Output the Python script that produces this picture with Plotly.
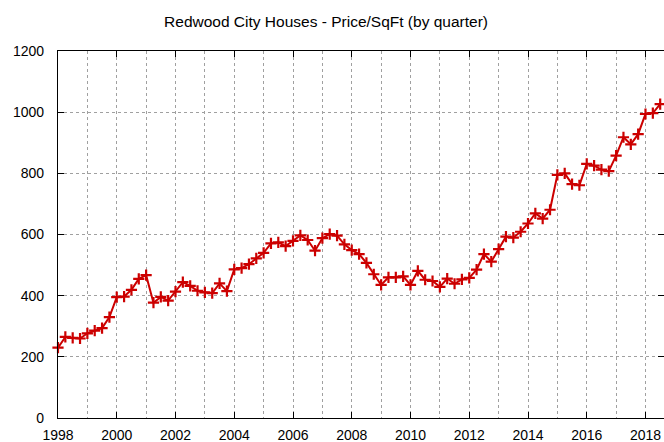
import plotly.graph_objects as go

start_year = 1998.0
quarter_step = 0.25
prices = [230, 265, 262, 260, 277, 286, 294, 330, 395, 397, 419, 455, 467, 377, 396, 384,
          413, 444, 432, 416, 411, 408, 440, 415, 486, 490, 503, 522, 540, 571, 574, 562,
          579, 597, 582, 547, 588, 601, 596, 568, 549, 536, 507, 470, 435, 460, 460, 463,
          435, 481, 452, 448, 429, 456, 439, 453, 458, 485, 536, 511, 552, 593, 590, 609,
          636, 669, 652, 681, 795, 800, 765, 761, 831, 825, 812, 807, 858, 918, 895, 928,
          994, 997, 1026]
years = [start_year + i * quarter_step for i in range(len(prices))]

x_ticks = list(range(1998, 2019, 2))
y_ticks = list(range(0, 1201, 200))
title_text = "Redwood City Houses - Price/SqFt (by quarter)"

red = "rgb(204,0,0)"
grid = "rgb(160,160,160)"
font_family = "Liberation Sans, Arial, sans-serif"

fig = go.Figure()
fig.add_trace(go.Scatter(
    x=years, y=prices, mode="lines+markers",
    line=dict(color=red, width=2),
    marker=dict(symbol="cross-thin", size=8, line=dict(color=red, width=2.2)),
    showlegend=False, cliponaxis=False,
))

fig.update_layout(
    width=664, height=442,
    margin=dict(l=58, r=0, t=51, b=24, autoexpand=False),
    paper_bgcolor="white", plot_bgcolor="white",
    font=dict(family=font_family, size=14, color="black"),
    title=dict(text=title_text, x=0.491, xref="container", xanchor="center",
               y=0.951, yref="container", yanchor="middle",
               font=dict(family=font_family, size=15.5, color="black")),
    xaxis=dict(range=[1998, 2018.63], tickvals=x_ticks, ticktext=[str(v) for v in x_ticks],
               ticks="inside", ticklen=6, tickcolor="black", tickwidth=1,
               showline=True, linecolor="black", linewidth=1.2, mirror="ticks",
               showgrid=True, gridcolor=grid, griddash="dot", gridwidth=1,
               minor=dict(dtick=1, tick0=1998, showgrid=True, gridcolor=grid, griddash="dot", gridwidth=1),
               zeroline=False, ticklabelstandoff=4, automargin=False,
               tickfont=dict(size=14)),
    yaxis=dict(range=[0, 1200], tickvals=y_ticks,
               ticks="inside", ticklen=6, tickcolor="black", tickwidth=1,
               showline=True, linecolor="black", linewidth=1.2, mirror="ticks",
               showgrid=True, gridcolor=grid, griddash="dot", gridwidth=1,
               zeroline=False, ticklabelstandoff=10, automargin=False,
               tickfont=dict(size=14)),
)

fig.write_html(
    "out.html",
    config={"displayModeBar": False},
    post_script="document.body.style.margin='0';document.body.style.overflow='hidden';",
)
